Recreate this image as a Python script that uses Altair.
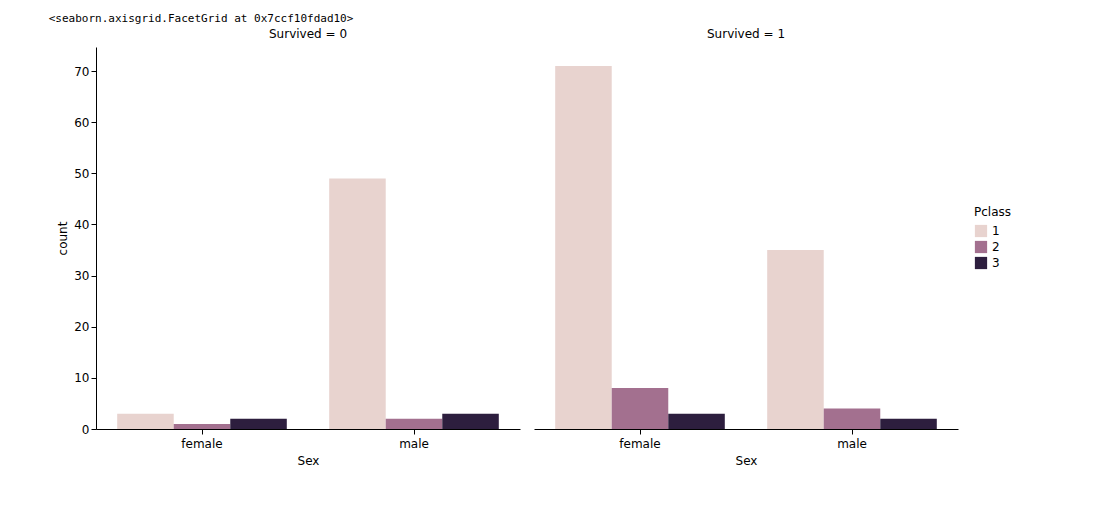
import pandas as pd
import altair as alt

# counts
sex = ['female', 'male']
pclass = ['1', '2', '3']
survived_0 = {'female': [3, 1, 2], 'male': [49, 2, 3]}
survived_1 = {'female': [71, 8, 3], 'male': [35, 4, 2]}

rows = []
for surv, table in [('0', survived_0), ('1', survived_1)]:
    for s in sex:
        for p, c in zip(pclass, table[s]):
            rows.append({'Survived': surv, 'Sex': s, 'Pclass': p, 'count': c})
df = pd.DataFrame(rows)

palette = ['#e8d3cf', '#a3708f', '#2d1e3e']

chart = alt.Chart(df).mark_bar().encode(
    x=alt.X('Sex:N', title='Sex', scale=alt.Scale(paddingInner=0.2, paddingOuter=0.1),
            axis=alt.Axis(labelAngle=0, tickColor='black', domainColor='black',
                          labelPadding=4, titlePadding=6)),
    xOffset=alt.XOffset('Pclass:N'),
    y=alt.Y('count:Q', title='count', scale=alt.Scale(domain=[0, 74.7], nice=False),
            axis=alt.Axis(values=[0, 10, 20, 30, 40, 50, 60, 70], grid=False,
                          tickColor='black', domainColor='black')),
    color=alt.Color('Pclass:N', scale=alt.Scale(domain=pclass, range=palette),
                    legend=alt.Legend(title='Pclass', symbolType='square', symbolSize=150,
                                      titleFontWeight='normal', orient='none',
                                      legendX=878, legendY=160)),
).properties(width=424, height=382).facet(
    column=alt.Column('Survived:N', title=None,
                      header=alt.Header(labelExpr="'Survived = ' + datum.value",
                                        labelFontSize=12, labelFont='DejaVu Sans',
                                        labelPadding=6)),
    spacing=14,
).properties(
    padding={'left': 40, 'top': 5, 'right': 5, 'bottom': 5},
    title=alt.TitleParams('<seaborn.axisgrid.FacetGrid at 0x7ccf10fdad10>', anchor='start',
                          font='DejaVu Sans Mono', fontSize=11, fontWeight='normal',
                          offset=4, dx=-8)
).configure_view(stroke=None).configure_axis(
    labelFont='DejaVu Sans', titleFont='DejaVu Sans', labelFontSize=12, titleFontSize=12,
    titleFontWeight='normal', labelColor='black', titleColor='black'
).configure_legend(labelFont='DejaVu Sans', titleFont='DejaVu Sans', labelFontSize=12, titleFontSize=12)

chart.save("out.html", embed_options={"renderer": "svg", "actions": False})
